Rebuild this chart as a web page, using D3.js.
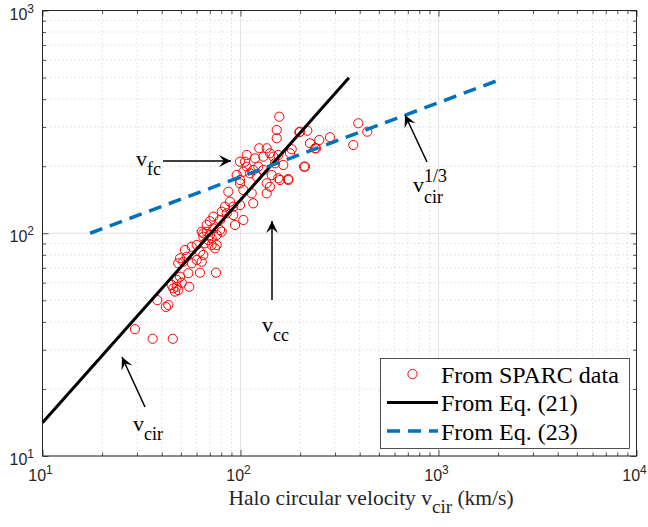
<!DOCTYPE html>
<html><head><meta charset="utf-8">
<script src="https://cdn.jsdelivr.net/npm/d3@7"></script>
<style>body{margin:0;background:#fff}</style>
</head><body>
<script>
// ---- data ----
const sparcX = [29.3,36.0,45.5,38.0,42.0,43.2,45.8,47.6,46.7,55.1,44.9,48.5,47.6,49.5,50.5,54.5,62.4,75.2,
48.5,49.5,51.4,53.5,56.7,60.1,63.7,52.4,56.7,60.1,62.4,64.9,66.2,68.8,71.5,74.3,70.1,64.9,63.7,75.8,80.4,
107.5,118.4,130.4,140.9,155.2,149.4,164.5,123.0,107.5,111.7,99.4,103.3,120.7,155.2,174.3,135.6,86.8,99.4,
103.3,113.9,135.6,116.0,99.4,91.9,88.5,83.5,80.4,85.2,91.9,103.3,93.8,78.8,72.9,70.1,67.5,72.9,78.8,67.5,
64.9,71.5,75.8,157.0,152.4,152.4,199.7,217.5,224.4,250.0,237.8,283.1,211.8,177.8,174.3,158.3,143.8,124.4,
135.6,146.5,105.4,116.0,95.7,99.4,130.4,140.9,393.5,436.9,371.3,240.6,209.3,198.2,181.4];
const sparcY = [37.1,33.6,33.6,50.1,46.7,47.6,56.6,57.5,54.7,57.5,58.6,55.6,61.7,63.8,60.0,66.1,66.5,66.5,
73.3,77.2,74.5,78.5,73.3,75.9,74.5,84.1,87.0,88.6,82.6,79.9,90.1,93.3,88.6,85.6,98.2,99.9,101.6,98.2,101.6,
224.6,217.0,220.7,228.5,224.6,206.1,202.5,199.0,199.0,185.8,209.5,188.9,179.4,176.5,173.4,167.6,153.7,167.6,
156.4,151.1,151.1,136.3,133.9,131.6,138.6,131.6,125.0,122.9,120.8,114.7,108.9,114.7,118.7,113.2,108.9,105.2,103.4,101.6,
96.5,94.9,88.6,333.6,290.8,266.9,285.7,288.6,253.4,262.2,240.7,269.7,199.0,228.5,175.2,173.4,182.6,240.7,
240.7,220.7,209.5,192.3,182.6,173.4,192.3,161.8,311.7,285.7,249.0,240.7,199.0,283.9,238.2];
const eq21X = [10, 353];
const eq21Y = [14.1, 499];
const eq23X = [17.4, 2050];
const eq23Y = [100, 490];
const decadesX = [10, 100, 1000, 10000];
const decadesY = [10, 100, 1000];
const tickExpX = ["1","2","3","4"];
const tickExpY = ["1","2","3"];
const legendLabels = ["From SPARC data","From Eq. (21)","From Eq. (23)"];
const xLabel = "Halo circular velocity v";
const xLabelSub = "cir";
const xLabelTail = " (km/s)";

// ---- layout ----
const W = 648, H = 527;
const L = 42.5, R = 636.5, T = 10.5, B = 456;
const x = d3.scaleLog().domain([10, 1e4]).range([L, R]);
const y = d3.scaleLog().domain([10, 1e3]).range([B, T]);

const svg = d3.select("body").append("svg").attr("width", W).attr("height", H)
  .style("font-family","'Liberation Sans', Arial, sans-serif");

function minors(dom){
  const out=[]; for(let d=dom[0]; d<dom[1]; d*=10){ for(let k=2;k<=9;k++) out.push(d*k);} return out;
}
const minX = minors([10,1e4]), minY = minors([10,1e3]);

// grid
const g = svg.append("g");
g.selectAll(".mgx").data(minX).join("line").attr("x1",d=>x(d)).attr("x2",d=>x(d)).attr("y1",T).attr("y2",B)
  .attr("stroke","#cfcfcf").attr("stroke-width",1).attr("stroke-dasharray","1,3");
g.selectAll(".mgy").data(minY).join("line").attr("y1",d=>y(d)).attr("y2",d=>y(d)).attr("x1",L).attr("x2",R)
  .attr("stroke","#cfcfcf").attr("stroke-width",1).attr("stroke-dasharray","1,3");
g.selectAll(".Mgx").data(decadesX).join("line").attr("x1",d=>x(d)).attr("x2",d=>x(d)).attr("y1",T).attr("y2",B)
  .attr("stroke","#e2e2e2").attr("stroke-width",1);
g.selectAll(".Mgy").data(decadesY).join("line").attr("y1",d=>y(d)).attr("y2",d=>y(d)).attr("x1",L).attr("x2",R)
  .attr("stroke","#e2e2e2").attr("stroke-width",1);

// axes ticks (inward, all sides)
function ax(gen, tr){ const a = svg.append("g").attr("transform",tr).call(gen);
  a.selectAll("text").remove(); a.select(".domain").remove();
  a.selectAll("line").attr("stroke","#262626").attr("stroke-width",0.8); return a; }
ax(d3.axisBottom(x).tickValues(decadesX).tickSize(-6), `translate(0,${B})`);
ax(d3.axisBottom(x).tickValues(minX).tickSize(-3.5), `translate(0,${B})`);
ax(d3.axisTop(x).tickValues(decadesX).tickSize(-6), `translate(0,${T})`);
ax(d3.axisTop(x).tickValues(minX).tickSize(-3.5), `translate(0,${T})`);
ax(d3.axisLeft(y).tickValues(decadesY).tickSize(-6), `translate(${L},0)`);
ax(d3.axisLeft(y).tickValues(minY).tickSize(-3.5), `translate(${L},0)`);
ax(d3.axisRight(y).tickValues(decadesY).tickSize(-6), `translate(${R},0)`);
ax(d3.axisRight(y).tickValues(minY).tickSize(-3.5), `translate(${R},0)`);
svg.append("rect").attr("x",L).attr("y",T).attr("width",R-L).attr("height",B-T)
  .attr("fill","none").attr("stroke","#262626").attr("stroke-width",1);

// tick labels
decadesX.forEach((d,i)=>{
  const t = svg.append("text").attr("x",x(d)-2).attr("y",481).attr("text-anchor","middle")
    .attr("font-size",16).attr("fill","#262626");
  t.append("tspan").text("10");
  t.append("tspan").attr("dy",-7).attr("font-size",12).text(tickExpX[i]);
});
decadesY.forEach((d,i)=>{
  const t = svg.append("text").attr("x",34).attr("y",y(d)+9).attr("text-anchor","end")
    .attr("font-size",16).attr("fill","#262626");
  t.append("tspan").text("10");
  t.append("tspan").attr("dy",-7).attr("font-size",12).text(tickExpY[i]);
});

// x label
const xl = svg.append("text").attr("x",371).attr("y",505).attr("text-anchor","middle")
  .attr("font-family","'Liberation Serif', 'Times New Roman', serif").attr("font-size",21.5).attr("fill","#262626");
xl.append("tspan").text(xLabel);
xl.append("tspan").attr("dy",8).attr("font-size",19).text(xLabelSub);
xl.append("tspan").attr("dy",-8).text(xLabelTail);

// clip
svg.append("clipPath").attr("id","clip").append("rect").attr("x",L).attr("y",T).attr("width",R-L).attr("height",B-T);
const plot = svg.append("g").attr("clip-path","url(#clip)");

// scatter
plot.selectAll("circle").data(sparcX.map((v,i)=>[v,sparcY[i]])).join("circle")
  .attr("cx",d=>x(d[0])).attr("cy",d=>y(d[1])).attr("r",4.6)
  .attr("fill","none").attr("stroke","#ff0000").attr("stroke-width",1);

const line = d3.line().x(d=>x(d[0])).y(d=>y(d[1]));
plot.append("path").attr("d",line(eq21X.map((v,i)=>[v,eq21Y[i]])))
  .attr("stroke","#000").attr("stroke-width",3).attr("fill","none");
plot.append("path").attr("d",line(eq23X.map((v,i)=>[v,eq23Y[i]])))
  .attr("stroke","#0072BD").attr("stroke-width",3.5).attr("fill","none").attr("stroke-dasharray","13,8");

// annotations
function arrow(x1,y1,x2,y2){
  svg.append("line").attr("x1",x1).attr("y1",y1).attr("x2",x2).attr("y2",y2)
    .attr("stroke","#000").attr("stroke-width",1.5);
  const a = Math.atan2(y2-y1,x2-x1), len=12, wid=6;
  const bx = x2-len*Math.cos(a), by = y2-len*Math.sin(a);
  const px = -Math.sin(a), py = Math.cos(a);
  const mx = x2-len*0.6*Math.cos(a), my = y2-len*0.6*Math.sin(a);
  svg.append("path").attr("d",`M${x2},${y2}L${bx+px*wid},${by+py*wid}L${mx},${my}L${bx-px*wid},${by-py*wid}Z`)
    .attr("fill","#000");
}
function label(xp,yp,main,sub,sup){
  const t = svg.append("text").attr("x",xp).attr("y",yp)
    .attr("font-family","'Liberation Serif', 'Times New Roman', serif").attr("font-size",22).attr("fill","#000");
  t.append("tspan").text(main);
  if(sup){
    const sx = xp+11;
    svg.append("text").attr("x",sx).attr("y",yp-10).attr("font-family","'Liberation Serif', serif").attr("font-size",18).text(sup);
    svg.append("text").attr("x",sx).attr("y",yp+11).attr("font-family","'Liberation Serif', serif").attr("font-size",18).text(sub);
  } else {
    t.append("tspan").attr("dy",9).attr("font-size",18).text(sub);
  }
}
arrow(163,161,231,161); label(136,166,"v","fc");
arrow(272,300,272,221); label(262,332,"v","cc");
arrow(145,407,122,357); label(133,431,"v","cir");
arrow(427,162,405,115); label(413,192,"v","cir","1/3");

// legend
const lg = svg.append("g");
lg.append("rect").attr("x",380.5).attr("y",358.5).attr("width",249).attr("height",90)
  .attr("fill","#fff").attr("stroke","#262626").attr("stroke-width",0.8);
lg.append("circle").attr("cx",412.5).attr("cy",374).attr("r",4.6).attr("fill","none").attr("stroke","#ff0000");
lg.append("line").attr("x1",387).attr("x2",438).attr("y1",402.5).attr("y2",402.5).attr("stroke","#000").attr("stroke-width",3);
lg.append("line").attr("x1",387).attr("x2",438).attr("y1",431).attr("y2",431).attr("stroke","#0072BD").attr("stroke-width",3.5).attr("stroke-dasharray","13,8");
legendLabels.forEach((s,i)=>{
  lg.append("text").attr("x",441).attr("y",382.5+i*28.5).attr("font-family","'Liberation Serif', 'Times New Roman', serif")
    .attr("font-size",24).attr("fill","#000").text(s);
});
</script>
</body></html>
